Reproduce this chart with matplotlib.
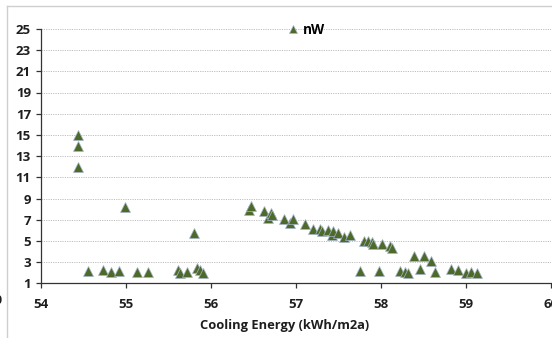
import matplotlib
matplotlib.use("Agg")
import matplotlib.pyplot as plt
from matplotlib.lines import Line2D

# Cooling energy demand vs. nW for each simulated variant
cooling_energy = [
    54.43, 54.43, 54.43, 54.55, 54.73, 54.82, 54.91, 54.99, 55.13, 55.26,
    55.61, 55.63, 55.72, 55.80, 55.83, 55.87, 55.90,
    56.45, 56.47, 56.62, 56.67, 56.70, 56.72, 56.86, 56.93, 56.96,
    57.11, 57.20, 57.28, 57.31, 57.37, 57.42, 57.43, 57.49, 57.56, 57.63,
    57.75, 57.80, 57.85, 57.89, 57.91, 57.98, 58.01, 58.10, 58.13,
    58.22, 58.28, 58.32, 58.39, 58.46, 58.51, 58.59, 58.64,
    58.82, 58.91, 59.00, 59.06, 59.13,
]
nw_values = [
    15.0, 14.0, 12.0, 2.2, 2.3, 2.1, 2.2, 8.2, 2.05, 2.1,
    2.25, 2.0, 2.1, 5.7, 2.4, 2.25, 2.0,
    7.9, 8.3, 7.85, 7.2, 7.65, 7.4, 7.05, 6.7, 7.05,
    6.6, 6.15, 6.15, 5.9, 6.0, 5.55, 5.9, 5.75, 5.4, 5.55,
    2.2, 5.0, 5.0, 4.85, 4.7, 2.2, 4.7, 4.5, 4.3,
    2.2, 2.05, 2.0, 3.55, 2.35, 3.55, 3.15, 2.05,
    2.35, 2.3, 2.0, 2.05, 1.97,
]
series_name = "nW"
x_ticks = [54, 55, 56, 57, 58, 59, 60]
y_ticks = [1, 3, 5, 7, 9, 11, 13, 15, 17, 19, 21, 23, 25]
x_label = "Cooling Energy (kWh/m2a)"

FONT = "Open Sans"
TEXT = "#1E1E1E"
FILL = "#4E6A2A"
EDGE = "#A7B6CA"
W, H = 552, 338

fig = plt.figure(figsize=(W / 100, H / 100), dpi=100)
fig.patch.set_facecolor("white")

def fx(px):
    return px / W

def fy(py):
    return 1 - py / H

ax = fig.add_axes([fx(41.3), fy(283.3), fx(551) - fx(41.3), fy(28.9) - fy(283.3)])
ax.set_facecolor("none")

ax.plot(cooling_energy, nw_values, linestyle="none", marker="^",
        markersize=6.8, markerfacecolor=FILL, markeredgecolor=EDGE,
        markeredgewidth=0.5, zorder=3, clip_on=False)

ax.set_xlim(54, 60)
ax.set_ylim(1, 25)
ax.set_xticks(x_ticks)
ax.set_yticks(y_ticks)
ax.set_xticklabels([str(v) for v in x_ticks], fontfamily=FONT,
                   fontweight="bold", fontsize=9.5, color=TEXT)
ax.set_yticklabels([str(v) for v in y_ticks], fontfamily=FONT,
                   fontweight="bold", fontsize=9.5, color=TEXT)
ax.tick_params(axis="both", direction="out", length=3.5, width=0.9,
               color="#333333")
ax.tick_params(axis="y", pad=4)
ax.tick_params(axis="x", pad=7)

for s in ("top", "right"):
    ax.spines[s].set_visible(False)
for s in ("left", "bottom"):
    ax.spines[s].set_color("#333333")
    ax.spines[s].set_linewidth(0.9)

for yv in y_ticks[1:]:
    ax.axhline(yv, color="#BDBDBD", linewidth=0.7, linestyle=(0, (1.2, 1.2)),
               zorder=1)

ax.set_xlabel(x_label, fontfamily=FONT, fontweight="bold", fontsize=9.3,
              color=TEXT, labelpad=5.5)
ax.xaxis.label.set_x(0.477)

handle = Line2D([], [], linestyle="none", marker="^", markersize=6.0,
                markerfacecolor=FILL, markeredgecolor=EDGE,
                markeredgewidth=0.5)
leg = fig.legend([handle], [series_name], loc="center left",
                 bbox_to_anchor=(fx(287), fy(30)), frameon=False,
                 borderpad=0, borderaxespad=0, handlelength=0.9,
                 handletextpad=0.25,
                 prop={"family": FONT, "weight": "bold", "size": 9.8})

# chart-area border
fig.add_artist(Line2D([fx(7.3), fx(7.3)], [fy(6), 0], color="#CFCFCF",
                      linewidth=1.0, transform=fig.transFigure))
fig.add_artist(Line2D([fx(7.3), 1], [fy(6), fy(6)], color="#CFCFCF",
                      linewidth=1.0, transform=fig.transFigure))

# tick label of the neighbouring chart on the left
fig.text(fx(3.0), fy(301), "60", ha="right", va="center", fontfamily=FONT,
         fontweight="bold", fontsize=9.5, color=TEXT)

fig.savefig("out.png", dpi=100)
